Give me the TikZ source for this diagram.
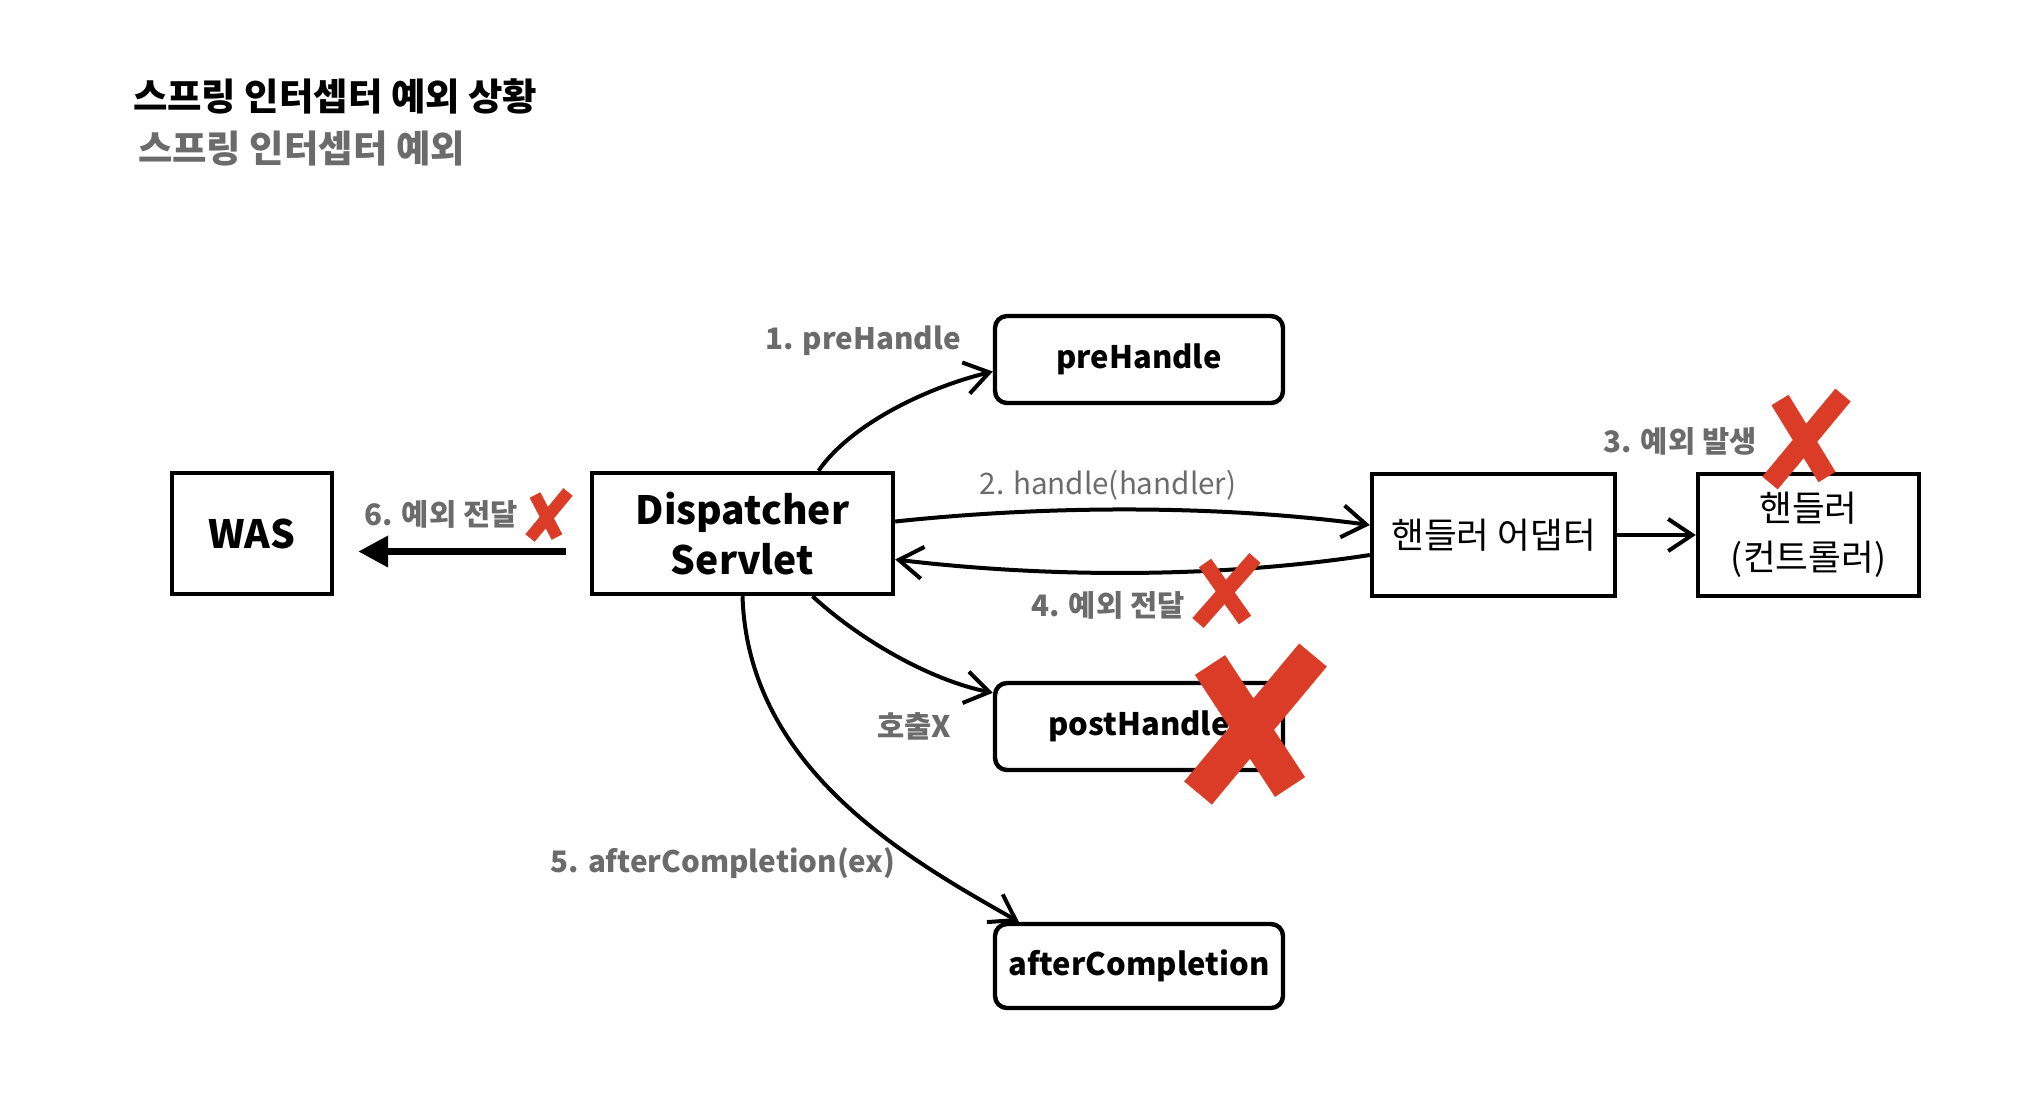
\documentclass[tikz,border=0pt]{standalone}
\usepackage{fontspec}
\setmainfont{Noto Sans CJK KR}
\usetikzlibrary{arrows.meta}
\definecolor{lblgray}{HTML}{6B6B6B}
\definecolor{xred}{HTML}{DB3C27}

\begin{document}
\begin{tikzpicture}[x=0.5pt,y=-0.5pt,
    box/.style={draw, line width=2.2pt, align=center, inner sep=0pt, minimum height=60.5pt},
    roundbox/.style={box, rounded corners=6pt, minimum width=144pt, minimum height=43.5pt,
      font=\bfseries\fontsize{15.5}{19}\selectfont},
    lbl/.style={text=lblgray, font=\bfseries\fontsize{14.8}{18}\selectfont},
    flow/.style={line width=2pt, -{Straight Barb[length=12pt,width=16pt]}},
    cross/.style={draw=xred, line width=#1}]
    \useasboundingbox (0,0) rectangle (2032,1100);

    % Titles
    \node[anchor=west, font=\bfseries\fontsize{18.7}{22}\selectfont] (title) at (126,96) {스프링 인터셉터 예외 상황};
    \node[anchor=west, text=lblgray, font=\bfseries\fontsize{18.7}{22}\selectfont] (subtitle) at (131,149) {스프링 인터셉터 예외};

    % Boxes
    \node[box, minimum width=80pt, font=\bfseries\fontsize{19.5}{25}\selectfont] (was) at (252,533.5) {WAS};
    \node[box, minimum width=150.5pt, font=\bfseries\fontsize{19.5}{25}\selectfont] (dispatcher) at (742.5,533.5) {Dispatcher\\Servlet};
    \node[box, minimum width=121.5pt, minimum height=61pt, font=\fontsize{17.8}{24.5}\selectfont] (adapter) at (1493.5,535) {핸들러 어댑터};
    \node[box, minimum width=110.5pt, minimum height=61pt, font=\fontsize{17.8}{24.5}\selectfont] (handler) at (1808.5,535) {핸들러\\(컨트롤러)};
    \node[roundbox] (prehandle) at (1139,359.5) {preHandle};
    \node[roundbox] (posthandle) at (1139,726.5) {postHandle};
    \node[roundbox, minimum height=42pt] (aftercompletion) at (1139,966) {afterCompletion};

    % Connectors
    \draw[flow] ([xshift=38pt]dispatcher.north) .. controls (850,425) and (925,388) .. ([yshift=-6pt]prehandle.west);
    \draw[flow] ([yshift=6pt]dispatcher.east) .. controls (1050,505) and (1220,505) .. ([yshift=5pt]adapter.west);
    \draw[flow] ([yshift=-10pt]adapter.west) .. controls (1220,578) and (1050,578) .. ([yshift=-13pt]dispatcher.east);
    \draw[flow] (adapter.east) -- (handler.west);
    \draw[flow] ([xshift=35pt]dispatcher.south) .. controls (860,640) and (930,680) .. ([yshift=-6pt]posthandle.north west);
    \draw[flow] (dispatcher.south) .. controls (748,770) and (910,860) .. ([xshift=13pt]aftercompletion.north west);
    \draw[line width=3.5pt, -{Triangle[length=15pt,width=15pt]}] ([xshift=-12pt,yshift=-9pt]dispatcher.west) -- ([xshift=12pt,yshift=-9pt]was.east);

    % Labels
    \node[lbl] (l1) at (863,341) {1. preHandle};
    \node[lbl, font=\fontsize{14.8}{18}\selectfont] (l2) at (1108,485) {2. handle(handler)};
    \node[lbl] (l3) at (1680,441) {3. 예외 발생};
    \node[lbl] (l4) at (1108,605) {4. 예외 전달};
    \node[lbl] (l5) at (723,863) {5. afterCompletion(ex)};
    \node[lbl] (l6) at (441,514) {6. 예외 전달};
    \node[lbl] (lx) at (914,726) {호출X};

    % Red crosses
    \draw[cross=6pt] (535,495) -- (557,537) (568,492) -- (530,538);
    \draw[cross=10pt] (1780,400) -- (1827,477) (1843,395) -- (1770,483);
    \draw[cross=7.5pt] (1205,563) -- (1245,620) (1255,558) -- (1198,623);
    \draw[cross=18pt] (1210,665) -- (1290,787) (1313,655) -- (1198,793);
\end{tikzpicture}
\end{document}
